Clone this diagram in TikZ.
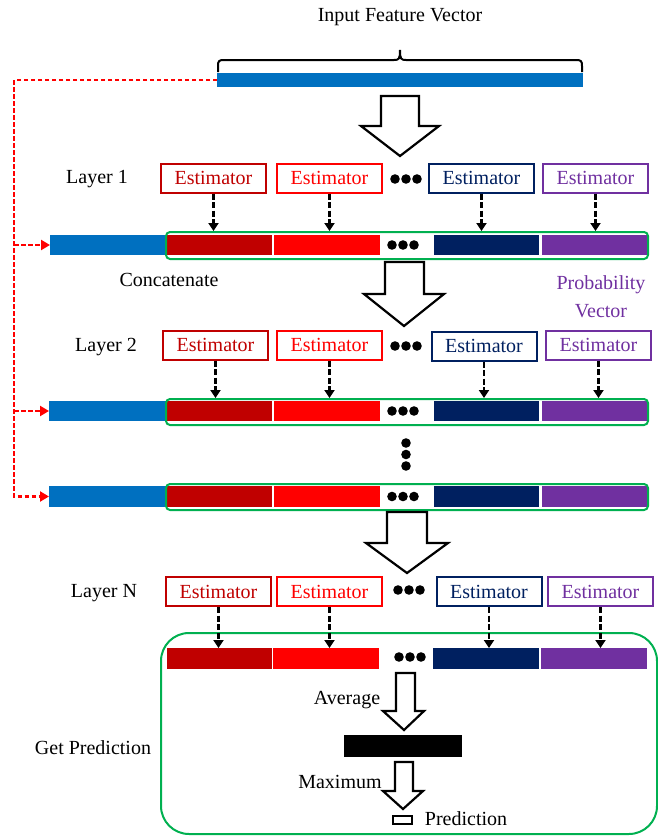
\documentclass[tikz,border=0pt]{standalone}
\usepackage{fontspec}
\setmainfont{Liberation Serif}
\usetikzlibrary{arrows.meta,calc}
\definecolor{inblue}{HTML}{0070C0}
\definecolor{dred}{HTML}{C00000}
\definecolor{bred}{HTML}{FF0000}
\definecolor{navy}{HTML}{002060}
\definecolor{purp}{HTML}{7030A0}
\definecolor{grn}{HTML}{00B050}
\tikzset{
  txt/.style={font=\fontsize{20}{24}\selectfont, inner sep=0pt},
  seg/.style={draw=none, inner sep=0pt, outer sep=0pt},
  estbox/.style={draw=#1, text=#1, line width=2pt, fill=white, font=\fontsize{20}{24}\selectfont, inner sep=0pt, minimum width=105pt, minimum height=29pt},
  grp/.style={draw=grn, line width=2pt, rounded corners=4pt, inner sep=0pt, minimum height=26pt, minimum width=482pt},
  dasharr/.style={line width=2.8pt, dash pattern=on 6pt off 2.5pt, -{Triangle[width=10pt,length=8pt]}},
  fbarr/.style={bred, line width=2.2pt, dash pattern=on 4.5pt off 2.5pt},
  fatarrow/.style={draw, line width=2.2pt, fill=white, line join=miter},
}
\newcommand{\rowdots}[2]{\fill (#1-11,#2) circle (4.8pt) (#1,#2) circle (4.8pt) (#1+11,#2) circle (4.8pt);}
\newcommand{\vecrow}[3]{%
  \node[seg, fill=dred, minimum width=105pt, minimum height=#3] (#1dr) at (219.5,#2) {};
  \node[seg, fill=bred, minimum width=106pt, minimum height=#3] (#1rd) at (327,#2) {};
  \node[seg, fill=navy, minimum width=105pt, minimum height=#3] (#1nv) at (486.5,#2) {};
  \node[seg, fill=purp, minimum width=105pt, minimum height=#3] (#1pu) at (594.5,#2) {};
  \rowdots{403}{#2}
}
\begin{document}
\begin{tikzpicture}[x=1pt,y=-1pt]
\useasboundingbox (0,0) rectangle (658,836);

% input
\node[txt] (title) at (400,17) {Input Feature Vector};
\draw[line width=2pt] (218,72) -- (218,66) .. controls (218,61) and (219,60) .. (224,60) -- (394,60) .. controls (399,60) and (400,59) .. (400,50) .. controls (400,59) and (401,60) .. (406,60) -- (576,60) .. controls (581,60) and (582,61) .. (582,66) -- (582,72);
\node[seg, fill=inblue, minimum width=366pt, minimum height=14pt] (inbar) at (400,80) {};

% arrow 1
\draw[fatarrow] (381,96) -- (419,96) -- (419,126) -- (439,126) -- (400,156) -- (361,126) -- (381,126) -- cycle;

% layer 1
\node[txt] (l1) at (97,179) {Layer 1};
\node[estbox=dred] (e11) at (213.5,178) {Estimator};
\node[estbox=bred] (e12) at (329.5,178) {Estimator};
\node[estbox=navy] (e13) at (481.5,178) {Estimator};
\node[estbox=purp] (e14) at (595.5,178) {Estimator};
\rowdots{406}{179}
\node[seg, fill=inblue, minimum width=117pt, minimum height=20pt] (b1) at (108.5,245) {};
\vecrow{a}{245}{20pt}
\node[grp, minimum height=27pt] (g1) at (407,245.5) {};
\foreach \e in {e11,e12,e13,e14} \draw[dasharr] (\e.south) -- (\e.south |- g1.north);
\node[txt] (cat) at (169,280) {Concatenate};
\node[txt, text=purp, align=center, font=\fontsize{20}{28}\selectfont] (pv) at (601,297) {Probability\\Vector};

% arrow 2
\draw[fatarrow] (385,262) -- (424,262) -- (424,294) -- (444,294) -- (404,326) -- (364,294) -- (385,294) -- cycle;

% layer 2
\node[txt] (l2) at (106,347) {Layer 2};
\node[estbox=dred] (e21) at (215.5,345) {Estimator};
\node[estbox=bred] (e22) at (329.5,345) {Estimator};
\node[estbox=navy] (e23) at (484,346) {Estimator};
\node[estbox=purp] (e24) at (598.5,345) {Estimator};
\rowdots{406}{346}
\node[seg, fill=inblue, minimum width=118pt, minimum height=20pt] (b2) at (108,411) {};
\vecrow{b}{411}{20pt}
\node[grp] (g2) at (407,412) {};
\foreach \e in {e21,e22,e23,e24} \draw[dasharr] (\e.south) -- (\e.south |- g2.north);

% vertical dots
\fill (406,443) circle (4.8pt) (406,454.5) circle (4.8pt) (406,466) circle (4.8pt);

% row 3
\node[seg, fill=inblue, minimum width=118pt, minimum height=21pt] (b3) at (108,496.5) {};
\vecrow{c}{496.5}{21pt}
\node[grp] (g3) at (407,497) {};

% feedback
\coordinate (fb) at (14,80);
\draw[fbarr, -{Triangle[width=10pt,length=9pt]}] (inbar.west) -- (fb) |- (b3.west);
\draw[fbarr, -{Triangle[width=10pt,length=9pt]}] (fb |- b1.west) -- (b1.west);
\draw[fbarr, -{Triangle[width=10pt,length=9pt]}] (fb |- b2.west) -- (b2.west);

% arrow 3
\draw[fatarrow] (387,512) -- (427,512) -- (427,543) -- (448,543) -- (407,573) -- (366,543) -- (387,543) -- cycle;

% layer N
\node[txt] (lN) at (104,593) {Layer N};
\node[estbox=dred] (eN1) at (218.5,591.5) {Estimator};
\node[estbox=bred] (eN2) at (329.5,591.5) {Estimator};
\node[estbox=navy] (eN3) at (489,591.5) {Estimator};
\node[estbox=purp] (eN4) at (600.5,591.5) {Estimator};
\rowdots{409}{590}

\node[draw=grn, line width=2pt, rounded corners=28pt, inner sep=0pt, minimum width=496pt, minimum height=201pt] (bigbox) at (409,733.5) {};
\node[seg, fill=dred, minimum width=105pt, minimum height=21pt] (ndr) at (219.5,658.5) {};
\node[seg, fill=bred, minimum width=106pt, minimum height=21pt] (nrd) at (326,658.5) {};
\node[seg, fill=navy, minimum width=106pt, minimum height=21pt] (nnv) at (486,658.5) {};
\node[seg, fill=purp, minimum width=106pt, minimum height=21pt] (npu) at (594,658.5) {};
\rowdots{410}{657}
\foreach \e in {eN1,eN2,eN3,eN4} \draw[dasharr] (\e.south) -- (\e.south |- ndr.north);

\node[txt] (gp) at (93,748) {Get Prediction};

% average
\draw[fatarrow] (396,673) -- (415,673) -- (415,711) -- (424,711) -- (404,730) -- (383,711) -- (396,711) -- cycle;
\node[txt] (avg) at (347,700) {Average};
\node[seg, fill=black, minimum width=118pt, minimum height=22pt] (avgbar) at (403,746) {};

% maximum
\draw[fatarrow] (395,762) -- (413,762) -- (413,791) -- (423,791) -- (403,809) -- (383,791) -- (395,791) -- cycle;
\node[txt] (mx) at (340,782) {Maximum};
\node[draw, line width=1.5pt, inner sep=0pt, minimum width=19pt, minimum height=8pt] (predbox) at (402.5,820) {};
\node[txt] (pred) at (466,819) {Prediction};
\end{tikzpicture}
\end{document}
